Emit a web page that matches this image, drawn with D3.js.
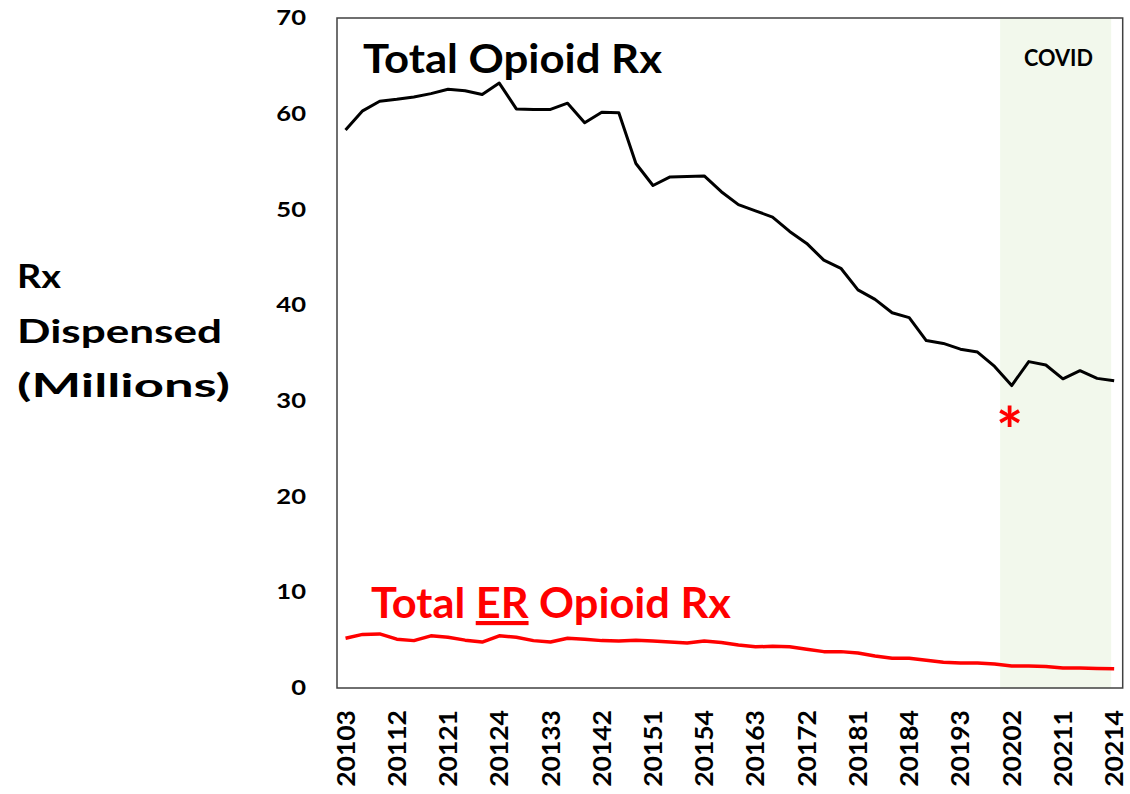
<!DOCTYPE html>
<html><head><meta charset="utf-8">
<script src="https://cdn.jsdelivr.net/npm/d3@7"></script>
<style>body{margin:0;background:#fff;} svg{display:block;} text{font-family:Lato,"Open Sans",sans-serif;font-weight:bold;}</style>
</head><body>
<script>
const quarters = ["20103","20104","20111","20112","20113","20114","20121","20122","20123","20124","20131","20132","20133","20134","20141","20142","20143","20144","20151","20152","20153","20154","20161","20162","20163","20164","20171","20172","20173","20174","20181","20182","20183","20184","20191","20192","20193","20194","20201","20202","20203","20204","20211","20212","20213","20214"];
const totalOpioid = [58.3,60.3,61.3,61.5,61.75,62.1,62.55,62.4,62.0,63.2,60.5,60.45,60.45,61.1,59.05,60.15,60.1,54.8,52.5,53.4,53.45,53.5,51.85,50.5,49.85,49.2,47.7,46.45,44.7,43.85,41.6,40.6,39.2,38.7,36.3,36.0,35.4,35.1,33.6,31.6,34.1,33.75,32.3,33.15,32.35,32.1];
const totalER = [5.2,5.6,5.65,5.1,4.95,5.45,5.3,5.0,4.8,5.45,5.3,4.95,4.8,5.2,5.1,4.95,4.9,5.0,4.9,4.8,4.7,4.9,4.75,4.5,4.3,4.35,4.3,4.05,3.8,3.8,3.65,3.35,3.1,3.1,2.9,2.7,2.6,2.6,2.5,2.3,2.3,2.25,2.1,2.1,2.05,2.0];
const yTicks = [0,10,20,30,40,50,60,70];
const xTickLabels = ["20103","20112","20121","20124","20133","20142","20151","20154","20163","20172","20181","20184","20193","20202","20211","20214"];
const covidStart = "20202", covidEnd = "20214";

const W = 1130, H = 794;
const L = 337, R = 1122.7, T = 18, B = 688;
const svg = d3.select("body").append("svg").attr("width", W).attr("height", H);

const x = d3.scaleBand().domain(quarters).range([L, R]).padding(0);
const bw = x.bandwidth();
const cx = q => x(q) + bw / 2;
const y = d3.scaleLinear().domain([0, 70]).range([B, T]);

// COVID shading
svg.append("rect")
  .attr("x", x(covidStart) - 3)
  .attr("y", T)
  .attr("width", cx(covidEnd) - 3 - (x(covidStart) - 3))
  .attr("height", B - T)
  .attr("fill", "#f2f8ec");

// frame
svg.append("rect").attr("x", L).attr("y", T).attr("width", R - L).attr("height", B - T)
  .attr("fill", "none").attr("stroke", "#404040").attr("stroke-width", 1.5);

// y tick labels
svg.selectAll(".ytl").data(yTicks).join("text")
  .attr("transform", d => `translate(306,${y(d)}) scale(1.28,1)`)
  .attr("dy", "0.36em")
  .attr("text-anchor", "end").attr("font-size", 20).attr("fill", "#000")
  .text(d => d);

// x tick labels
svg.selectAll(".xtl").data(xTickLabels).join("text")
  .attr("transform", d => `translate(${cx(d)},710) rotate(-90) scale(1.06,1)`)
  .attr("text-anchor", "end").attr("dy", "0.36em")
  .attr("font-size", 25).attr("fill", "#000")
  .text(d => d);

// y axis title
[["Rx", 288, 44], ["Dispensed", 343, 205], ["(Millions)", 397, 213]].forEach(([t, yy, len]) => {
  svg.append("text").attr("x", 17).attr("y", yy).attr("font-size", 32.5).attr("fill", "#000")
    .attr("textLength", len).attr("lengthAdjust", "spacingAndGlyphs").text(t);
});

const line = d3.line().x((d, i) => cx(quarters[i])).y(d => y(d));
svg.append("path").datum(totalOpioid).attr("d", line)
  .attr("fill", "none").attr("stroke", "#000").attr("stroke-width", 3).attr("stroke-linejoin", "round");
svg.append("path").datum(totalER).attr("d", line)
  .attr("fill", "none").attr("stroke", "#ff0000").attr("stroke-width", 3.5).attr("stroke-linejoin", "round");

// labels
svg.append("text").attr("x", 363).attr("y", 73).attr("font-size", 40.5).attr("fill", "#000")
  .attr("textLength", 299).attr("lengthAdjust", "spacingAndGlyphs")
  .text("Total Opioid Rx");
const er = svg.append("text").attr("x", 371).attr("y", 618).attr("font-size", 41.5).attr("fill", "#ff0000")
  .attr("textLength", 360).attr("lengthAdjust", "spacingAndGlyphs");
er.append("tspan").text("Total ");
er.append("tspan").attr("text-decoration", "underline").text("ER");
er.append("tspan").text(" Opioid Rx");

svg.append("text").attr("x", 1024).attr("y", 66)
  .attr("font-size", 22).attr("fill", "#000")
  .attr("textLength", 69).attr("lengthAdjust", "spacingAndGlyphs").text("COVID");
svg.append("text").attr("x", 1009.5).attr("y", 454).attr("text-anchor", "middle")
  .attr("font-size", 64).attr("fill", "#ff0000").text("*");
</script>
</body></html>
